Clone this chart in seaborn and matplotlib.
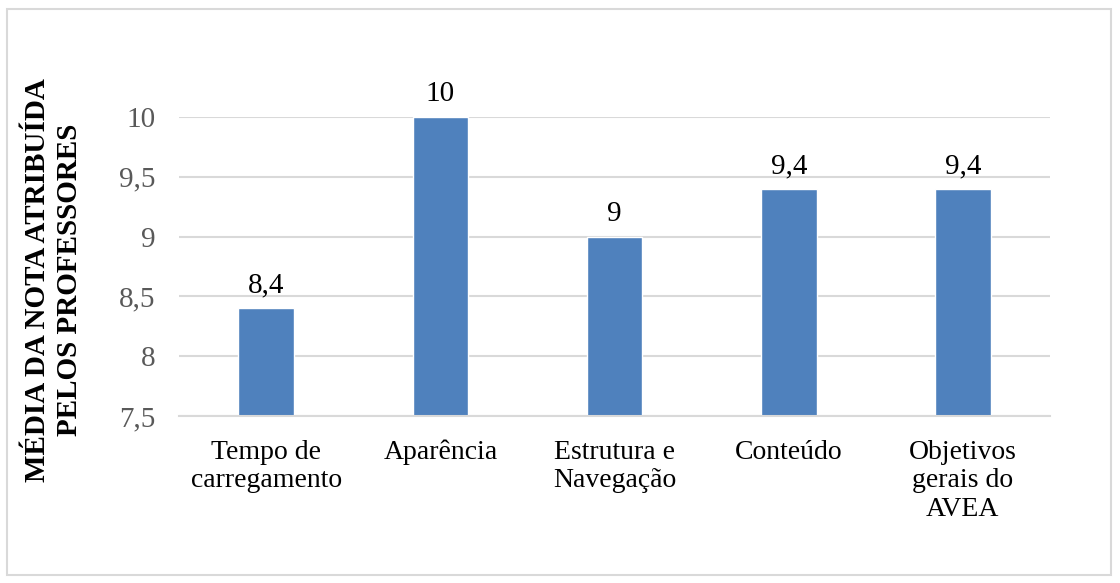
import matplotlib
matplotlib.use("Agg")
import matplotlib.pyplot as plt
import seaborn as sns
import pandas as pd
from matplotlib.patches import Rectangle

categorias = ["Tempo de\ncarregamento", "Aparência", "Estrutura e\nNavegação",
              "Conteúdo", "Objetivos\ngerais do\nAVEA"]
medias = [8.4, 10.0, 9.0, 9.4, 9.4]
rotulos = ["8,4", "10", "9", "9,4", "9,4"]
ticks_y = [7.5, 8.0, 8.5, 9.0, 9.5, 10.0]
ticks_y_txt = ["7,5", "8", "8,5", "9", "9,5", "10"]

sns.set_theme(style="white")
plt.rcParams["font.family"] = ["Liberation Serif", "DejaVu Serif"]

df = pd.DataFrame({"categoria": categorias, "media": medias})

fig = plt.figure(figsize=(11.2, 5.83), dpi=100)
ax = fig.add_axes([0.160, 0.2864, 0.7775, 0.5130])

sns.barplot(data=df, x="categoria", y="media", color="#4F81BD", saturation=1,
            width=0.32, ax=ax, bottom=0)
ax.set_ylim(7.5, 10)
ax.set_xlim(-0.5, len(categorias) - 0.5)
ax.set_yticks(ticks_y)
ax.set_yticklabels(ticks_y_txt)
ax.tick_params(axis="y", colors="#595959", labelsize=21, length=0, pad=17)
ax.tick_params(axis="x", colors="black", labelsize=20, length=0, pad=17)
for lbl in ax.get_xticklabels():
    lbl.set_verticalalignment("top")
    lbl.set_linespacing(1.2)

ax.yaxis.grid(True, color="#D9D9D9", linewidth=1.5)
ax.set_axisbelow(True)
for side in ["left", "right", "top"]:
    ax.spines[side].set_visible(False)
ax.spines["bottom"].set_color("#D9D9D9")
ax.spines["bottom"].set_linewidth(1.5)

for bar, txt in zip(ax.patches, rotulos):
    ax.annotate(txt, (bar.get_x() + bar.get_width() / 2, bar.get_height()),
                xytext=(0, 7), textcoords="offset points", ha="center", va="bottom",
                fontsize=21, color="black", annotation_clip=False)

ax.set_xlabel("")
ax.set_ylabel("MÉDIA DA NOTA ATRIBUÍDA\nPELOS PROFESSORES", fontsize=21,
              fontweight="bold", color="black", linespacing=1.2)
ax.yaxis.set_label_coords(-0.111, 0.455)

fig.patches.append(Rectangle((7 / 1120, 8 / 583), 1104 / 1120, 566 / 583,
                             transform=fig.transFigure, fill=False,
                             edgecolor="#D9D9D9", linewidth=1.5))

fig.savefig("out.png", dpi=100)
